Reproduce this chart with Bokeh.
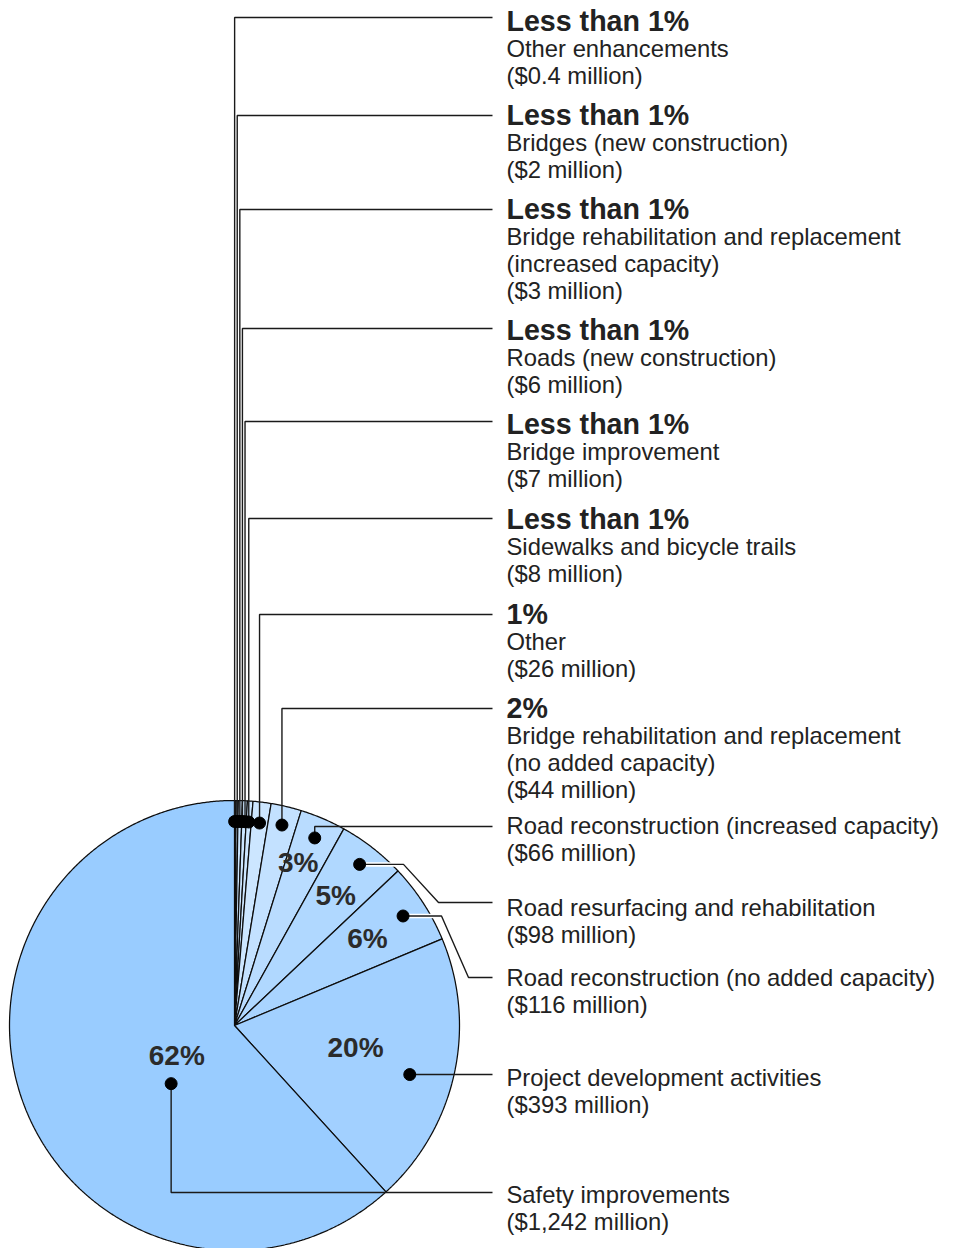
import numpy as np
from bokeh.plotting import figure
from bokeh.models import Range1d
from bokeh.core.properties import value
from bokeh.embed import file_html
from bokeh.resources import INLINE

# ---------------- data ----------------
categories = [
    "Other enhancements",
    "Bridges (new construction)",
    "Bridge rehabilitation and replacement|(increased capacity)",
    "Roads (new construction)",
    "Bridge improvement",
    "Sidewalks and bicycle trails",
    "Other",
    "Bridge rehabilitation and replacement|(no added capacity)",
    "Road reconstruction (increased capacity)",
    "Road resurfacing and rehabilitation",
    "Road reconstruction (no added capacity)",
    "Project development activities",
    "Safety improvements",
]
amounts = [0.4, 2, 3, 6, 7, 8, 26, 44, 66, 98, 116, 393, 1242]
amount_labels = ["($0.4 million)", "($2 million)", "($3 million)", "($6 million)",
                 "($7 million)", "($8 million)", "($26 million)", "($44 million)",
                 "($66 million)", "($98 million)", "($116 million)", "($393 million)",
                 "($1,242 million)"]
share_headers = ["Less than 1%"] * 6 + ["1%", "2%"] + [""] * 5
inside_labels = [""] * 8 + ["3%", "5%", "6%", "20%", "62%"]

# ---------------- style / layout ----------------
fills = ["#CCE6FF"] * 7 + ["#C3E1FF", "#B9DCFF", "#B0D8FF", "#A9D4FF", "#A2D0FF", "#99CCFF"]
CX, CY, R = 234.0, 1025.0, 225.0
dot_r = [204] * 7 + [206, 204, 204, 201, 182, 86]
dot_dtheta = [0] * 11 + [3.1, -21.4]
pct_r = [0] * 8 + [175, 165, 159, 123, 65]
pct_dtheta = [0] * 8 + [-1.8, 0, -0.2, -2.2, -6.2]
leader_y = [17, 115, 209, 328, 421, 518, 614, 708, 826, 902, 977, 1074, 1192]
text_y = [20, 114, 208, 329, 423, 518, 613, 707, 825, 907, 977, 1077, 1194]
LINE_END_X = 492
TEXT_X = 506

total = float(sum(amounts))
fracs = np.array(amounts) / total
ends = np.cumsum(fracs) * 360.0
starts = ends - fracs * 360.0
mids = (starts + ends) / 2.0


def pt(theta_deg, r):
    t = np.radians(theta_deg)
    return CX + r * np.sin(t), CY - r * np.cos(t)


p = figure(width=957, height=1248, x_range=Range1d(0, 957), y_range=Range1d(1248, 0),
           output_backend="svg", toolbar_location=None, min_border=0,
           x_axis_location=None, y_axis_location=None)
p.grid.visible = False
p.outline_line_color = None
p.background_fill_color = "white"

# pie slices
xs, ys = [], []
for s, e in zip(starts, ends):
    th = np.linspace(s, e, max(3, int((e - s) * 3) + 2))
    ax, ay = pt(th, R)
    xs.append([CX] + list(ax))
    ys.append([CY] + list(ay))
p.patches(xs, ys, fill_color=fills, line_color="#0d0d0d", line_width=1.25)

# dots
dx, dy = [], []
prev = -1e9
for i in range(len(amounts)):
    x, y = pt(mids[i] + dot_dtheta[i], dot_r[i])
    if i < 8:
        x = max(x, prev + 2.6)
        prev = x
    dx.append(float(x))
    dy.append(float(y))

# leader lines
lx, ly, halo = [], [], []
for i in range(len(amounts)):
    x0, y0, yl = dx[i], dy[i], leader_y[i]
    if i == 9:
        px = [x0, 403, 438, LINE_END_X]; py = [y0, y0, yl, yl]
    elif i == 10:
        px = [x0, 441, 468, LINE_END_X]; py = [y0, y0, yl, yl]
    elif i == 11:
        px = [x0, LINE_END_X]; py = [y0, y0]
    else:
        px = [x0, x0, LINE_END_X]; py = [y0, yl, yl]
    lx.append(px); ly.append(py)
    halo.append(i in (9, 10))

hx = [lx[i] for i in range(len(lx)) if halo[i]]
hy = [ly[i] for i in range(len(ly)) if halo[i]]
p.multi_line(hx, hy, line_color="white", line_width=4.5)
p.multi_line(lx, ly, line_color="#1a1a1a", line_width=1.4)
p.scatter(dx, dy, size=12, fill_color="black", line_color="black")

# inside percent labels
ix, iy, itx = [], [], []
for i, lab in enumerate(inside_labels):
    if lab:
        x, y = pt(mids[i] + pct_dtheta[i], pct_r[i])
        ix.append(float(x)); iy.append(float(y)); itx.append(lab)
p.text(ix, iy, text=itx, text_font=value("Liberation Sans"), text_font_style="bold",
       text_font_size="28px", text_color="#2b2b2b", text_align="center",
       text_baseline="middle")

# right-hand labels
bx, by, bt = [], [], []
nx, ny, nt = [], [], []
for i in range(len(amounts)):
    y = text_y[i]
    if share_headers[i]:
        bx.append(TEXT_X); by.append(y); bt.append(share_headers[i])
        y += 28
    for line in categories[i].split("|") + [amount_labels[i]]:
        nx.append(TEXT_X); ny.append(y); nt.append(line)
        y += 26.8
p.text(bx, by, text=bt, text_font=value("Liberation Sans"), text_font_style="bold",
       text_font_size="28.6px", text_color="#222222", text_baseline="middle")
p.text(nx, ny, text=nt, text_font=value("Liberation Sans"), text_font_size="23.8px",
       text_color="#222222", text_baseline="middle")

open("out.html", "w").write(file_html(p, INLINE))
